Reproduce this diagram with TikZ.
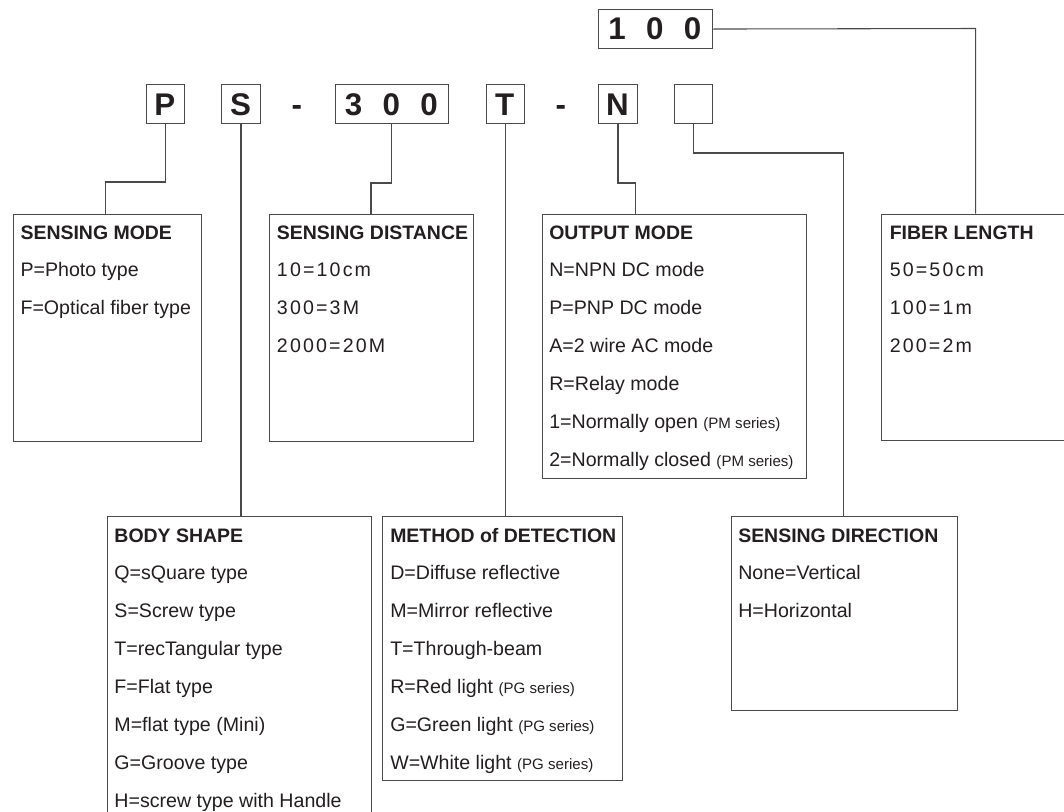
\documentclass[tikz,border=0pt]{standalone}
\usepackage{fontspec}
\setmainfont{Liberation Sans}
\newfontfamily\spacedfont[LetterSpace=11]{Liberation Sans}
\definecolor{linec}{HTML}{4A4A4A}
\definecolor{txtc}{HTML}{231F20}
\tikzset{
  pxbox/.style 2 args={draw=linec, line width=0.8pt, inner sep=0pt,
    minimum width=#1*0.75pt, minimum height=#2*0.75pt, anchor=north west},
  conn/.style={draw=linec, line width=0.8pt},
  ttl/.style={font=\fontsize{14.6}{16}\selectfont\bfseries, text=txtc, anchor=base west, inner sep=0pt},
  txt/.style={font=\fontsize{14.7}{16}\selectfont, text=txtc, anchor=base west, inner sep=0pt},
  sp/.style={font=\fontsize{14.7}{16}\spacedfont, text=txtc, anchor=base west, inner sep=0pt},
  codech/.style={font=\fontsize{23.5}{26}\selectfont\bfseries, text=txtc, anchor=base, inner sep=0pt},
}
\newcommand{\ser}[1]{{\fontsize{11.3}{13}\selectfont #1}}
\begin{document}
\begin{tikzpicture}[x=0.75pt, y=-0.75pt]
\useasboundingbox (0,0) rectangle (1064,811);
\clip (0,0) rectangle (1064,811);
\fill[white] (0,0) rectangle (1064,811);

% ---- code row ----
\node[pxbox={38.3}{38.4}] (P) at (145.7,84.3) {};
\node[pxbox={38.3}{38.4}] (S) at (221.3,84.3) {};
\node[pxbox={113.2}{38.4}] (D300) at (334.7,84.3) {};
\node[pxbox={38.3}{38.4}] (T) at (485.5,84.3) {};
\node[pxbox={38.3}{38.4}] (N) at (598.3,84.3) {};
\node[pxbox={38.3}{38.4}] (E) at (673.7,84.3) {};
\node[pxbox={113.2}{38.4}] (H) at (598.3,9.3) {};

\node[codech] (cP) at (164.85,115) {P};
\node[codech] (cS) at (240.45,115) {S};
\node[codech] (dash1) at (296.8,115) {-};
\node[codech] (c3a) at (353.6,115) {3};
\node[codech] (c3b) at (391.3,115) {0};
\node[codech] (c3c) at (429.0,115) {0};
\node[codech] (cT) at (504.65,115) {T};
\node[codech] (dash2) at (560.8,115) {-};
\node[codech] (cN) at (617.45,115) {N};
\node[codech] (cH1) at (617.2,39.8) {1};
\node[codech] (cH2) at (654.9,39.8) {0};
\node[codech] (cH3) at (692.6,39.8) {0};

% ---- description boxes ----
\node[pxbox={188}{227.2}] (sm) at (12.7,213.5) {};
\node[pxbox={204.3}{227.2}] (sd) at (269,213.5) {};
\node[pxbox={264.3}{264.8}] (om) at (541.5,213.5) {};
\node[pxbox={220}{226.5}] (fl) at (881.3,213.5) {};
\node[pxbox={264}{320}] (bs) at (106.7,515.7) {};
\node[pxbox={240}{264.3}] (md) at (382.3,515.7) {};
\node[pxbox={226.6}{194}] (sdir) at (730.7,516) {};

% ---- connectors ----
\coordinate (pbend) at (105.7,182);
\draw[conn] (P.south) |- (pbend) -- (pbend |- sm.north);
\draw[conn] (S.south) -- (S.south |- bs.north);
\coordinate (dbend) at (371,183);
\draw[conn] (D300.south) |- (dbend) -- (dbend |- sd.north);
\draw[conn] (T.south) -- (T.south |- md.north);
\coordinate (nbend) at (635.7,183);
\draw[conn] (N.south) |- (nbend) -- (nbend |- om.north);
\coordinate (ebend) at (843.5,153);
\draw[conn] (E.south) |- (ebend) -- (ebend |- sdir.north);
\coordinate (hbend) at (975.7,28.5);
\draw[conn] (H.east) -- (hbend) -- (hbend |- fl.north);

% ---- texts: SENSING MODE ----
\node[ttl] (sm0) at (20.3,239) {SENSING MODE};
\node[txt] (sm1) at (20.3,276.9) {P=Photo type};
\node[txt] (sm2) at (20.3,314.8) {F=Optical fiber type};

% SENSING DISTANCE
\node[ttl] (sd0) at (276.7,239) {SENSING DISTANCE};
\node[sp] (sd1) at (276.7,276.9) {10=10cm};
\node[sp] (sd2) at (276.7,314.8) {300=3M};
\node[sp] (sd3) at (276.7,352.7) {2000=20M};

% OUTPUT MODE
\node[ttl] (om0) at (549,239) {OUTPUT MODE};
\node[txt] (om1) at (549,276.9) {N=NPN DC mode};
\node[txt] (om2) at (549,314.8) {P=PNP DC mode};
\node[txt] (om3) at (549,352.7) {A=2 wire AC mode};
\node[txt] (om4) at (549,390.6) {R=Relay mode};
\node[txt] (om5) at (549,428.5) {1=Normally open \ser{(PM series)}};
\node[txt] (om6) at (549,466.4) {2=Normally closed \ser{(PM series)}};

% FIBER LENGTH
\node[ttl] (fl0) at (889.5,239) {FIBER LENGTH};
\node[sp] (fl1) at (889.5,276.9) {50=50cm};
\node[sp] (fl2) at (889.5,314.8) {100=1m};
\node[sp] (fl3) at (889.5,352.7) {200=2m};

% BODY SHAPE
\node[ttl] (bs0) at (114.2,542) {BODY SHAPE};
\node[txt] (bs1) at (114.2,579.9) {Q=sQuare type};
\node[txt] (bs2) at (114.2,617.8) {S=Screw type};
\node[txt] (bs3) at (114.2,655.7) {T=recTangular type};
\node[txt] (bs4) at (114.2,693.6) {F=Flat type};
\node[txt] (bs5) at (114.2,731.5) {M=flat type (Mini)};
\node[txt] (bs6) at (114.2,769.4) {G=Groove type};
\node[txt] (bs7) at (114.2,807.3) {H=screw type with Handle};

% METHOD of DETECTION
\node[ttl] (md0) at (390,542) {METHOD of DETECTION};
\node[txt] (md1) at (390,579.9) {D=Diffuse reflective};
\node[txt] (md2) at (390,617.8) {M=Mirror reflective};
\node[txt] (md3) at (390,655.7) {T=Through-beam};
\node[txt] (md4) at (390,693.6) {R=Red light \ser{(PG series)}};
\node[txt] (md5) at (390,731.5) {G=Green light \ser{(PG series)}};
\node[txt] (md6) at (390,769.4) {W=White light \ser{(PG series)}};

% SENSING DIRECTION
\node[ttl] (sdir0) at (738,542) {SENSING DIRECTION};
\node[txt] (sdir1) at (738,579.9) {None=Vertical};
\node[txt] (sdir2) at (738,617.8) {H=Horizontal};
\end{tikzpicture}
\end{document}
